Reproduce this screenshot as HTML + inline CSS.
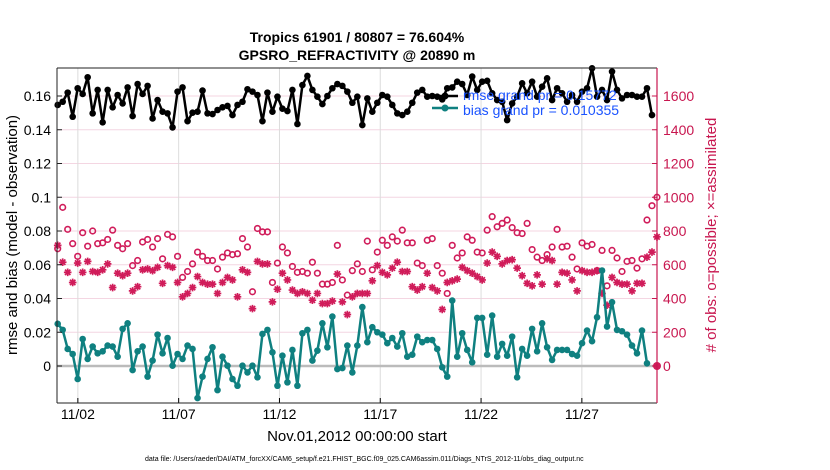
<!DOCTYPE html>
<html><head><meta charset="utf-8"><style>
body{margin:0;background:#fff;}
svg{font-family:"Liberation Sans",sans-serif;display:block;}
</style></head><body>
<svg id="chart" width="830" height="470" viewBox="0 0 830 470" xmlns="http://www.w3.org/2000/svg">
<rect width="830" height="470" fill="#fff"/>
<text x="357" y="42" text-anchor="middle" font-size="14" font-weight="bold">Tropics 61901 / 80807 = 76.604%</text>
<text x="357" y="60" text-anchor="middle" font-size="14" font-weight="bold">GPSRO_REFRACTIVITY @ 20890 m</text>
<g id="grid"></g>
<g id="series"></g>
<g id="axes"></g>
<text transform="translate(17,235) rotate(-90)" text-anchor="middle" font-size="15">rmse and bias (model - observation)</text>
<text fill="#c8164f" transform="translate(716,235) rotate(-90)" text-anchor="middle" font-size="15"># of obs: o=possible; ×=assimilated</text>
<text x="357" y="441" text-anchor="middle" font-size="15">Nov.01,2012 00:00:00 start</text>
<text x="145" y="461" font-size="7">data file: /Users/raeder/DAI/ATM_forcXX/CAM6_setup/f.e21.FHIST_BGC.f09_025.CAM6assim.011/Diags_NTrS_2012-11/obs_diag_output.nc</text>
<g>
<line x1="432" y1="96" x2="458" y2="96" stroke="#000" stroke-width="2.5"/><circle cx="445" cy="96" r="3.5" fill="#000"/>
<line x1="432" y1="108" x2="458" y2="108" stroke="#0f8080" stroke-width="2.5"/><circle cx="445" cy="108" r="3.5" fill="#0f8080"/>
<text x="463" y="100" font-size="14" fill="#1a53ff">rmse grand pr = 0.15772</text>
<text x="463" y="115" font-size="14" fill="#1a53ff">bias grand pr = 0.010355</text>
</g>
</svg>
<script>
const rmse=[154.7,156.6,162,147.7,164.6,161.2,171.1,149.7,163.6,144.4,163.6,153.3,160.6,155.6,165.1,148.1,167.1,161.2,166,146.7,157.6,150.7,149.7,141.4,162.6,165.1,145.1,150.1,150.7,163.2,149.7,
149.3,151.7,153.3,154.1,148.7,154.7,156.6,164,162.6,160.6,145.1,162,150.7,159.6,152.5,151.1,163.6,143.4,166.5,171.9,163.6,159.6,155.2,160,164.6,167.1,166,162.6,156,159.6,
142.8,158.6,150.7,156,160.6,159.6,154.7,149.7,148.7,150.7,156,162,163.6,159.6,160,159.6,158,164.6,165.1,168.5,167.1,160.6,171.5,163.6,168.5,169,161.6,157.6,156.6,145.7,
155.6,159.6,167.5,161.6,168.5,159.6,165.5,170.5,157.6,164.6,161.6,156.6,160.6,156.6,162.6,164.6,176.4,159.6,163.6,157.6,174.5,163.6,158.6,160.6,160.6,159.6,159.6,164.6,148.7];
const bias=[25,21.4,10.1,7.1,-7.7,16,4.2,11.5,7.5,8.7,12.1,11.5,5.5,22,25.3,-2.4,8.7,11.5,-6.3,3.2,18.6,7.5,16.6,0.2,7.1,4.2,12.1,10.1,-19,-6.3,4.2,
11.1,-14.3,5.5,0.2,-7.7,-11.7,0.2,-3.8,0.2,-6.7,19,21.4,8.1,-11.7,6.1,-9.7,9.5,-11.7,19.4,21.4,3.2,9.1,25.3,11.1,29.3,-1.8,-1.2,12.1,-3.8,
12.1,34.9,14.1,23,20,18.6,13.5,16.6,11.5,19.4,5.5,6.7,17.4,14.1,15.4,15.4,10.1,-0.8,-6.3,38.8,5.5,19.4,9.5,2.2,28.5,28.5,6.7,29.9,5.5,13.1,
6.1,17.4,-6.7,10.1,6.1,22,8.7,25.3,11.1,3.6,9.5,9.5,9.5,7.1,6.1,13.5,21,14.7,28.9,56.6,23.4,37.8,21.4,20.6,18.6,12.1,7.5,21,1.6];
const possible=[695,940,810,725,650,790,710,800,725,730,750,805,715,695,725,595,625,735,750,705,755,635,780,765,650,525,560,605,675,650,625,
625,575,645,670,660,665,755,705,440,815,795,795,495,610,705,670,590,555,560,550,615,550,485,485,495,715,510,420,565,605,
560,740,570,675,745,715,765,740,805,730,730,610,595,745,755,595,550,430,715,640,670,765,745,675,670,805,885,825,845,865,
820,790,785,845,690,645,625,660,705,810,705,710,645,575,730,710,720,565,685,475,685,640,560,620,625,580,635,865,950,1000];
const assimilated=[715,615,555,495,610,555,620,560,555,570,605,465,550,535,550,445,470,570,575,565,585,490,595,585,495,410,430,465,530,495,485,
485,430,495,525,510,410,570,555,340,620,605,605,380,455,550,510,450,430,440,430,390,430,370,370,385,545,380,305,410,430,
430,430,505,595,555,540,580,615,560,560,470,450,470,550,465,445,335,495,505,515,585,565,550,530,510,610,675,650,605,625,
630,580,535,490,475,540,485,635,625,485,555,550,510,445,565,555,555,565,430,360,525,495,485,485,445,490,490,645,675,765];
const dayTicks=[1,6,11,16,21,26];
const dayLabels=["11/02","11/07","11/12","11/17","11/22","11/27"];
const leftTicks=[0,0.02,0.04,0.06,0.08,0.1,0.12,0.14,0.16];
const rightTicks=[0,200,400,600,800,1000,1200,1400,1600];

const X0=57.7,PX_DAY=20.16,L=57,R=657,T=68,B=403,STEP=4.994;
const xDay=d=>X0+d*PX_DAY;
const xIdx=i=>X0+i*STEP;
const yL=v=>366-v*1687.5;
const yM=v=>yL(v/1000);
const yR=n=>366-n*0.16875;
const NS="http://www.w3.org/2000/svg";
function mk(tag,attrs,parent){const e=document.createElementNS(NS,tag);for(const k in attrs)e.setAttribute(k,attrs[k]);parent.appendChild(e);return e;}
const grid=document.getElementById('grid'),ser=document.getElementById('series'),ax=document.getElementById('axes');

rightTicks.forEach(n=>{const g=mk('line',{x1:L,x2:R,y1:yR(n),y2:yR(n),stroke:'#f4d6e2','stroke-width':1},grid);

});
dayTicks.forEach((d,i)=>{const g=mk('line',{x1:xDay(d),x2:xDay(d),y1:T,y2:B,stroke:'#dcdcdc','stroke-width':1},grid);


const t=mk('text',{x:xDay(d),y:419,'text-anchor':'middle','font-size':14},ax);t.textContent=dayLabels[i];


mk('line',{x1:xDay(d),x2:xDay(d),y1:B,y2:B-5,stroke:'#000'},ax);});
const z=mk('line',{x1:L,x2:R,y1:yL(0),y2:yL(0),stroke:'#bbb','stroke-width':2.5},grid);



possible.forEach((n,i)=>{const c=mk('circle',{cx:xIdx(i),cy:yR(n),r:2.8,fill:'none',stroke:'#d01c5a','stroke-width':1.6},ser);

});
assimilated.forEach((n,i)=>{const x=xIdx(i),y=yR(n),r=3.8,q=2.7;
const s=mk('path',{d:`M${x-r},${y}H${x+r}M${x},${y-r}V${y+r}M${x-q},${y-q}L${x+q},${y+q}M${x-q},${y+q}L${x+q},${y-q}`,stroke:'#d01c5a','stroke-width':1.7,fill:'none'},ser);

});
function line(arr,color,name){
 const p=mk('polyline',{points:arr.map((v,i)=>xIdx(i)+','+yM(v)).join(' '),fill:'none',stroke:color,'stroke-width':2.5,'stroke-linejoin':'round'},ser);
 
 
 arr.forEach((v,i)=>{const c=mk('circle',{cx:xIdx(i),cy:yM(v),r:3.3,fill:color},ser);
 
 });
}
line(bias,'#0f8080','bias');
line(rmse,'#000','rmse');
const endDot=mk('circle',{cx:R,cy:yR(0),r:4,fill:'#d01c5a'},ser);



mk('line',{x1:L,x2:R,y1:T,y2:T,stroke:'#222'},ax);
mk('line',{x1:L,x2:R,y1:B,y2:B,stroke:'#222'},ax);
mk('line',{x1:L,x2:L,y1:T,y2:B,stroke:'#222'},ax);
mk('line',{x1:R,x2:R,y1:T,y2:B,stroke:'#c8164f','stroke-width':1.2},ax);
leftTicks.forEach(v=>{mk('line',{x1:L,x2:L+5,y1:yL(v),y2:yL(v),stroke:'#222'},ax);
const t=mk('text',{x:L-6,y:yL(v)+5,'text-anchor':'end','font-size':14},ax);t.textContent=String(v);

});
rightTicks.forEach(n=>{mk('line',{x1:R,x2:R-5,y1:yR(n),y2:yR(n),stroke:'#c8164f'},ax);
const t=mk('text',{x:R+6,y:yR(n)+5,'font-size':14,fill:'#c8164f'},ax);t.textContent=String(n);

});
</script>
</body></html>
